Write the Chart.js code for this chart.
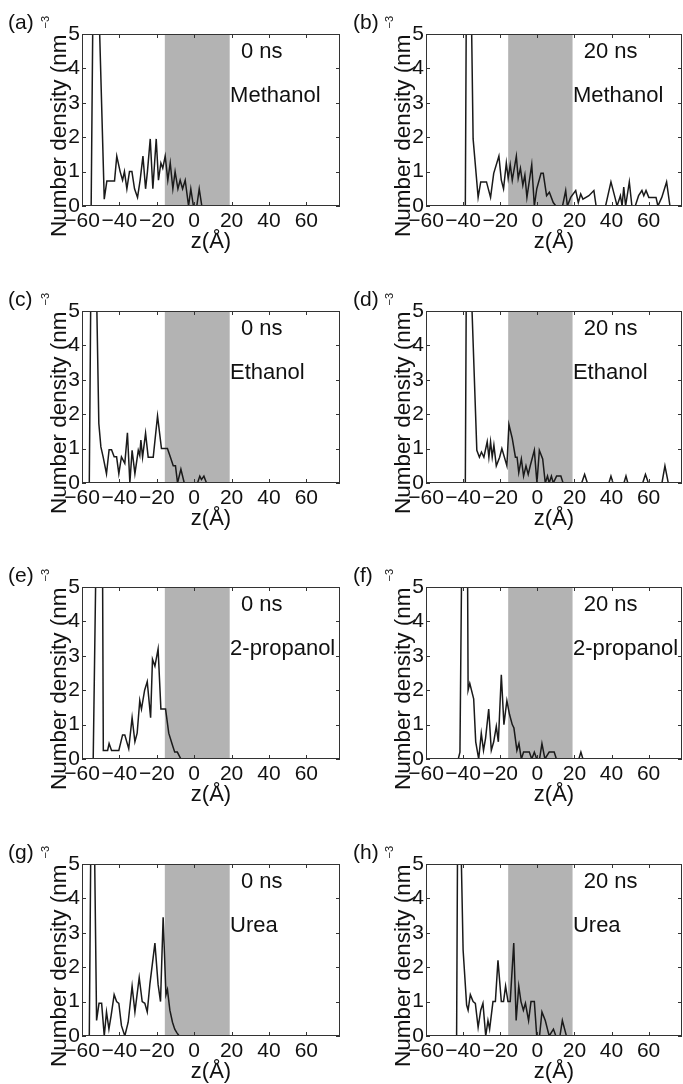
<!DOCTYPE html>
<html>
<head>
<meta charset="utf-8">
<script src="https://cdn.jsdelivr.net/npm/chart.js@4.4.1/dist/chart.umd.min.js"></script>
<style>
  html, body { margin: 0; padding: 0; background: #fff; overflow: hidden; }
  #wrap { position: relative; width: 683px; height: 1084px; }
  #wrap canvas { position: absolute; }
</style>
</head>
<body>
<div id="wrap"></div>
<script>
/* ===== Data: number density (nm^-3) vs z (Å) ===== */
const zTicks = [-60, -40, -20, 0, 20, 40, 60];
const yTicks = [0, 1, 2, 3, 4, 5];
const shadeZ = [-15.7, 19];   // grey slab

// (a) Methanol, 0 ns
const zMeth0 = [-60, -55.1, -54.2, -50.8, -48.1, -46.7, -42.6, -41.4, -39.6, -38.3, -37.3, -36.0, -34.6, -33.3, -31.9, -30.3, -28.9, -27.4, -26.0, -25.0, -23.5, -22.1, -20.3, -19.1, -17.8, -16.8, -15.5, -14.1, -12.8, -11.4, -10.2, -8.7, -7.5, -6.2, -4.8, -3.0, -1.8, -0.4, 1.4, 2.7, 4.1];
const nMeth0 = [0, 0, 5.5, 5.5, 0.2, 0.73, 0.73, 1.45, 1.0, 0.75, 1.0, 0.5, 1.0, 1.0, 0.5, 0.25, 0.75, 1.45, 0.5, 1.0, 1.95, 0.5, 1.95, 0.75, 1.25, 1.1, 1.45, 0.75, 1.25, 0.5, 1.0, 0.5, 0.75, 0.5, 0.75, 0, 0.5, 0, 0, 0.5, 0];

// (b) Methanol, 20 ns
const zMeth20 = [-60, -38.8, -38.3, -35.5, -34.6, -31.9, -30.5, -27.4, -25.2, -23.5, -20.7, -19.4, -18.2, -16.7, -15.7, -14.6, -13.5, -11.3, -10.3, -9.1, -7.8, -6.7, -5.6, -3.0, -1.6, -0.3, 2.0, 3.2, 5.0, 6.5, 8.6, 10.0, 13.6, 15.3, 16.2, 18.0, 20.7, 22.1, 23.4, 24.6, 27.8, 30.5, 31.7, 36.8, 39.7, 42.1, 43.0, 44.8, 45.7, 46.6, 47.6, 49.6, 51.0, 52.8, 54.6, 56.4, 57.4, 58.6, 60.1, 64.0, 65.0, 67.1, 69.7, 71.5];
const nMeth20 = [0, 0, 5.5, 5.5, 1.95, 0.25, 0.7, 0.7, 0.25, 0.95, 1.45, 0.75, 0.5, 1.25, 0.8, 1.2, 0.75, 1.45, 0.8, 1.1, 0.6, 0.9, 0.25, 1.2, 0, 0.5, 0.95, 0.95, 0.3, 0.4, 0.1, 0, 0, 0.45, 0, 0.25, 0.45, 0.1, 0.35, 0.2, 0.3, 0.45, 0, 0, 0.7, 0.2, 0, 0.3, 0, 0.55, 0, 0.7, 0, 0, 0.3, 0.45, 0.3, 0.45, 0.25, 0.25, 0, 0.25, 0.7, 0];

// (c) Ethanol, 0 ns
const zEth0 = [-60, -56.1, -55.3, -52.2, -51.0, -49.9, -48.7, -46.9, -45.5, -44.2, -42.8, -41.5, -40.3, -38.9, -37.1, -35.7, -34.4, -33.2, -31.7, -29.9, -29.1, -28.5, -27.6, -26.0, -24.6, -21.9, -19.6, -17.5, -14.3, -12.7, -11.2, -10.0, -8.9, -7.1, -5.3, 1.8, 3.0, 3.9, 5.2, 6.6];
const nEth0 = [0, 0, 5.5, 5.5, 1.73, 1.05, 0.76, 0.27, 0.97, 0.97, 0.76, 0.76, 0.27, 0.76, 0.57, 1.46, 0, 0.95, 0.27, 0.95, 0.8, 1.25, 0.75, 1.45, 0.75, 0.75, 1.95, 1.0, 1.0, 0.75, 0.5, 0.5, 0, 0.4, 0, 0, 0.2, 0.1, 0.2, 0];

// (d) Ethanol, 20 ns
const zEth20 = [-60, -38.8, -38.3, -35.5, -32.6, -31.2, -30.1, -28.8, -27.0, -26.1, -25.2, -24.3, -23.4, -22.1, -20.3, -19.1, -16.4, -15.3, -13.5, -11.8, -10.9, -10.0, -8.6, -7.4, -6.1, -4.9, -3.8, -1.6, -0.2, 1.1, 2.9, 4.3, 5.5, 6.4, 7.6, 8.6, 10.4, 12.7, 13.9, 23.9, 25.5, 27.0, 38.6, 39.7, 40.8, 46.7, 47.8, 48.8, 56.8, 58.3, 59.9, 67.2, 68.8, 70.6];
const nEth20 = [0, 0, 5.5, 5.5, 0.95, 0.75, 0.9, 0.75, 1.2, 0.75, 1.2, 0.75, 1.1, 0.5, 0.75, 1.0, 0.5, 1.7, 1.3, 0.75, 0.75, 0.3, 0.7, 0.2, 0.5, 0.25, 0.5, 0.95, 0, 0.95, 0.7, 0, 0.2, 0, 0.2, 0, 0.2, 0.2, 0, 0, 0.25, 0, 0, 0.2, 0, 0, 0.2, 0, 0, 0.25, 0, 0, 0.5, 0];

// (e) 2-propanol, 0 ns
const zProp0 = [-60, -54.0, -52.6, -49.0, -48.6, -46.3, -45.5, -44.2, -40.3, -38.3, -37.1, -35.0, -33.2, -31.7, -30.5, -29.1, -28.2, -26.5, -25.1, -23.3, -22.3, -21.0, -19.3, -17.8, -15.3, -13.6, -11.6, -10.4, -9.0, -7.1];
const nProp0 = [0, 0, 5.5, 5.5, 0.25, 0.25, 0.45, 0.25, 0.25, 0.7, 0.7, 0.3, 1.2, 0.5, 0.75, 1.7, 1.45, 2.0, 2.25, 1.2, 2.9, 2.7, 3.2, 1.45, 1.45, 0.75, 0.4, 0.2, 0.2, 0];

// (f) 2-propanol, 20 ns
const zProp20 = [-60, -42.6, -41.7, -40.8, -37.6, -37.3, -36.4, -34.3, -33.2, -31.6, -30.2, -29.0, -27.9, -26.2, -24.8, -23.5, -22.1, -21.0, -19.4, -18.0, -16.4, -15.0, -13.5, -12.6, -11.0, -9.9, -8.6, -7.4, -4.3, -3.0, -1.6, -0.3, 1.2, 2.5, 4.1, 6.4, 9.1, 10.3, 22.4, 23.5, 24.6];
const nProp20 = [0, 0, 0.2, 5.5, 5.5, 2.0, 2.2, 1.75, 0.5, 0, 0.75, 0.25, 0.6, 1.45, 0.25, 0.5, 0.95, 0.5, 2.45, 1.0, 1.7, 1.3, 1.0, 0.9, 0.25, 0.45, 0, 0.2, 0.2, 0, 0.2, 0, 0, 0.45, 0, 0.2, 0.2, 0, 0, 0.2, 0];

// (g) Urea, 0 ns
const zUrea0 = [-60, -56.1, -55.3, -53.3, -52.2, -50.9, -49.5, -48.1, -46.9, -45.6, -44.4, -42.8, -41.5, -40.3, -38.9, -37.1, -35.3, -33.2, -31.7, -29.4, -27.8, -26.4, -25.1, -23.7, -21.0, -19.3, -18.0, -16.6, -15.1, -14.3, -13.0, -11.6, -10.4, -9.3, -8.0];
const nUrea0 = [0, 0, 5.5, 5.5, 0.45, 0.95, 0.95, 0, 0.7, 0.2, 0.6, 1.2, 1.0, 0.95, 0.3, 0, 0.4, 1.45, 0.7, 1.7, 1.0, 0.95, 0.7, 1.5, 2.7, 1.5, 1.0, 3.45, 1.2, 1.35, 0.75, 0.4, 0.2, 0.1, 0];

// (h) Urea, 20 ns
const zUrea20 = [-60, -43.5, -43.0, -41.1, -40.0, -38.1, -37.3, -36.1, -34.6, -33.4, -31.9, -30.5, -29.3, -27.8, -26.6, -25.7, -23.9, -22.6, -21.2, -19.4, -18.2, -17.1, -15.8, -14.6, -12.7, -11.4, -10.0, -8.8, -7.5, -6.4, -4.7, -3.4, -1.6, -0.3, 1.2, 2.5, 4.3, 6.4, 8.7, 10.0, 12.2, 13.5, 15.7];
const nUrea20 = [0, 0, 5.5, 5.5, 2.5, 0.9, 0.75, 1.2, 1.0, 0.95, 0.25, 0.75, 0.95, 0, 0.45, 0.2, 1.0, 1.0, 2.2, 1.0, 1.0, 1.45, 1.0, 1.0, 2.7, 0.45, 1.45, 1.0, 0.75, 0.95, 0.45, 1.0, 1.0, 0, 0, 0.7, 0.45, 0, 0.2, 0, 0, 0.45, 0];

const letters  = ['(a)', '(b)', '(c)', '(d)', '(e)', '(f)', '(g)', '(h)'];
const times    = ['0 ns', '20 ns', '0 ns', '20 ns', '0 ns', '20 ns', '0 ns', '20 ns'];
const solvents = ['Methanol', 'Methanol', 'Ethanol', 'Ethanol', '2-propanol', '2-propanol', 'Urea', 'Urea'];
const zSeries  = [zMeth0, zMeth20, zEth0, zEth20, zProp0, zProp20, zUrea0, zUrea20];
const nSeries  = [nMeth0, nMeth20, nEth0, nEth20, nProp0, nProp20, nUrea0, nUrea20];

/* ===== Layout ===== */
const FONT = "'Liberation Sans', Arial, sans-serif";
const rowTop = [34, 311, 587, 864];          // plot-area top of each row
const colLeft = [0, 344];
const colWidth = [342, 339];
const colPadRight = [2, 1];
const letterX = [8, 9];
const frameColor = '#333';

const panelPlugin = {
    id: 'panel',
    beforeDatasetsDraw(chart) {
        const { ctx, chartArea: a, scales: { x } } = chart;
        const x0 = x.getPixelForValue(shadeZ[0]), x1 = x.getPixelForValue(shadeZ[1]);
        ctx.save();
        ctx.fillStyle = '#b3b3b3';
        ctx.fillRect(x0, a.top, x1 - x0, a.bottom - a.top);
        ctx.restore();
    },
    afterDraw(chart) {
        const { ctx, chartArea: a, scales: { x, y } } = chart;
        const i = chart.options.plugins.panel.index;
        ctx.save();
        // frame + inward ticks
        ctx.strokeStyle = frameColor;
        ctx.lineWidth = 1;
        ctx.strokeRect(a.left + 0.5, a.top + 0.5, a.right - a.left - 1, a.bottom - a.top - 1);
        ctx.beginPath();
        zTicks.forEach(v => {
            const px = Math.round(x.getPixelForValue(v)) + 0.5;
            ctx.moveTo(px, a.bottom); ctx.lineTo(px, a.bottom - 4);
            ctx.moveTo(px, a.top); ctx.lineTo(px, a.top + 4);
        });
        yTicks.forEach(v => {
            const py = Math.round(y.getPixelForValue(v)) + 0.5;
            ctx.moveTo(a.left, py); ctx.lineTo(a.left + 4, py);
            ctx.moveTo(a.right, py); ctx.lineTo(a.right - 4, py);
        });
        ctx.stroke();

        // annotations
        ctx.fillStyle = '#111';
        ctx.textBaseline = 'middle';
        ctx.textAlign = 'left';
        ctx.font = '22px ' + FONT;
        ctx.fillText(times[i], x.getPixelForValue(25), a.top + 18);
        ctx.fillText(solvents[i], x.getPixelForValue(19.2), a.top + 62);

        // panel letter
        ctx.font = '21px ' + FONT;
        ctx.fillText(letters[i], letterX[i % 2], a.top - 11);

        // y-axis title with superscript
        ctx.translate(66, a.bottom + 31);
        ctx.rotate(-Math.PI / 2);
        ctx.textBaseline = 'alphabetic';
        ctx.font = '22.5px ' + FONT;
        const main = 'Number density (nm';
        ctx.fillText(main, 0, 0);
        const w = ctx.measureText(main).width;
        ctx.font = '11px ' + FONT;
        ctx.fillText('\u22123', w + 6, -17);
        ctx.restore();
    }
};

const wrap = document.getElementById('wrap');

zSeries.forEach((zs, i) => {
    const col = i % 2, row = Math.floor(i / 2);
    const cv = document.createElement('canvas');
    cv.width = colWidth[col];
    cv.height = 276;
    cv.style.left = colLeft[col] + 'px';
    cv.style.top = (rowTop[row] - 34) + 'px';
    wrap.appendChild(cv);

    const pts = zs.map((z, k) => ({ x: z, y: nSeries[i][k] }));

    new Chart(cv, {
        type: 'line',
        data: {
            datasets: [{
                data: pts,
                borderColor: '#1a1a1a',
                borderWidth: 1.5,
                pointRadius: 0,
                tension: 0,
                fill: false,
                clip: 0
            }]
        },
        options: {
            responsive: false,
            animation: false,
            events: [],
            layout: { padding: { left: 0, right: colPadRight[col], top: 34, bottom: 0 } },
            plugins: {
                legend: { display: false },
                tooltip: { enabled: false },
                panel: { index: i }
            },
            scales: {
                x: {
                    type: 'linear', min: -60, max: 78,
                    afterBuildTicks: s => { s.ticks = zTicks.map(v => ({ value: v })); },
                    afterFit: s => { s.height = 70; },
                    grid: { display: false, drawTicks: false },
                    border: { display: false },
                    ticks: {
                        color: '#111', padding: 3, maxRotation: 0, autoSkip: false,
                        font: { family: FONT, size: 21 },
                        callback: v => (v < 0 ? '\u2212' + Math.abs(v) : String(v))
                    },
                    title: {
                        display: true, text: 'z(Å)', color: '#111',
                        font: { family: FONT, size: 22 },
                        padding: { top: 0, bottom: 21 }
                    }
                },
                y: {
                    type: 'linear', min: 0, max: 5,
                    afterBuildTicks: s => { s.ticks = yTicks.map(v => ({ value: v })); },
                    afterFit: s => { s.width = 82; },
                    grid: { display: false, drawTicks: false },
                    border: { display: false },
                    ticks: {
                        color: '#111', padding: 2,
                        font: { family: FONT, size: 21 }
                    }
                }
            }
        },
        plugins: [panelPlugin]
    });
});
</script>
</body>
</html>
